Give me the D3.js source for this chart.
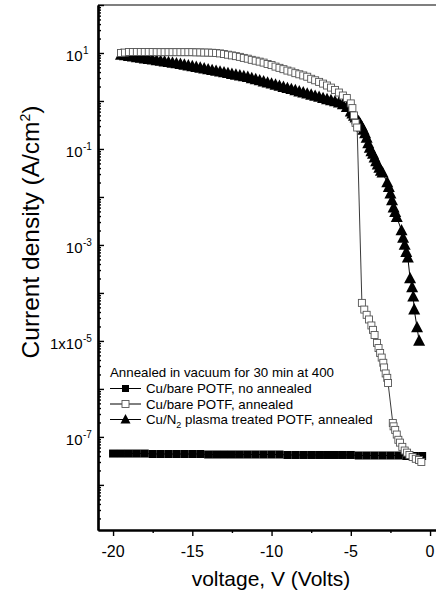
<!DOCTYPE html>
<html>
<head>
<meta charset="utf-8">
<script src="https://cdn.jsdelivr.net/npm/d3@7"></script>
<style>
  html, body { margin: 0; padding: 0; background: #fff; overflow: hidden; }
  svg { display: block; font-family: Arial, "Liberation Sans", sans-serif; }
</style>
</head>
<body>
<svg id="chart" width="436" height="594"></svg>
<script>
// ---------------- DATA ----------------
// Series A: Cu/bare POTF, no annealed (filled squares)
const voltsA = [-20,-19.5,-19,-18.5,-18,-17.5,-17,-16.5,-16,-15.5,-15,-14.5,-14,-13.5,-13,-12.5,-12,-11.5,-11,-10.5,
                -10,-9.5,-9,-8.5,-8,-7.5,-7,-6.5,-6,-5.5,-5,-4.5,-4,-3.5,-3,-2.5,-2,-1.5,-1,-0.5];
const currA = [4.5e-8,4.5e-8,4.5e-8,4.5e-8,4.5e-8,4.4e-8,4.4e-8,4.4e-8,4.4e-8,4.4e-8,4.4e-8,4.4e-8,4.3e-8,4.3e-8,4.3e-8,4.3e-8,4.3e-8,4.3e-8,4.3e-8,4.3e-8,
               4.3e-8,4.3e-8,4.2e-8,4.2e-8,4.2e-8,4.2e-8,4.2e-8,4.2e-8,4.2e-8,4.2e-8,4.2e-8,4.1e-8,4.1e-8,4.1e-8,4.1e-8,4.1e-8,4.1e-8,4.0e-8,4.0e-8,4.0e-8];

// Series B: Cu/bare POTF, annealed (open squares)
const voltsB = [-19.5,-19.25,-19,-18.75,-18.5,-18.25,-18,-17.75,-17.5,-17.25,-17,-16.75,-16.5,-16.25,-16,-15.75,-15.5,-15.25,-15,-14.75,
                -14.5,-14.25,-14,-13.75,-13.5,-13.25,-13,-12.75,-12.5,-12.25,-12,-11.75,-11.5,-11.25,-11,-10.75,-10.5,-10.25,-10,-9.75,
                -9.5,-9.25,-9,-8.75,-8.5,-8.25,-8,-7.75,-7.5,-7.25,-7,-6.75,-6.5,-6.25,-6,-5.75,-5.5,-5.25,-5,-4.9,
                -4.8,-4.7,-4.6,-4.3,-4.15,-4,-3.85,-3.7,-3.6,-3.5,-3.35,-3.25,-3.15,-3.05,-2.95,-2.9,-2.8,-2.7,-2.65,-2.35,
                -2.3,-2.2,-2.1,-2,-1.9,-1.75,-1.6,-1.45,-1.3,-1.1,-0.9,-0.7,-0.55];
const currB = [10.0,10.2,10.5,10.5,10.5,10.5,10.5,10.5,10.5,10.4,10.4,10.4,10.4,10.4,10.4,10.4,10.4,10.4,10.4,10.3,
               10.3,10.2,10.2,10.1,10.0,9.8,9.5,9.2,8.9,8.6,8.3,7.9,7.6,7.2,6.9,6.6,6.3,5.9,5.6,5.2,
               4.9,4.6,4.3,4.1,3.8,3.6,3.4,3.2,2.9,2.7,2.5,2.3,2.1,1.9,1.7,1.5,1.3,1.15,0.89,0.71,
               0.50,0.35,0.28,6.2e-5,4.5e-5,3.5e-5,2.8e-5,2.1e-5,1.7e-5,1.33e-5,9.1e-6,7.1e-6,5.6e-6,4.5e-6,3.5e-6,2.8e-6,2.1e-6,1.7e-6,1.33e-6,1.95e-7,
               1.66e-7,1.4e-7,1.12e-7,8.7e-8,7.6e-8,6.2e-8,5.2e-8,4.7e-8,4.2e-8,3.8e-8,3.5e-8,3.3e-8,3.0e-8];

// Series C: Cu/N2 plasma treated POTF, annealed (filled triangles)
const voltsC = [-19.5,-19.25,-19,-18.75,-18.5,-18.25,-18,-17.75,-17.5,-17.25,-17,-16.75,-16.5,-16.25,-16,-15.75,-15.5,-15.25,-15,-14.75,
                -14.5,-14.25,-14,-13.75,-13.5,-13.25,-13,-12.75,-12.5,-12.25,-12,-11.75,-11.5,-11.25,-11,-10.75,-10.5,-10.25,-10,-9.75,
                -9.5,-9.25,-9,-8.75,-8.5,-8.25,-8,-7.75,-7.5,-7.25,-7,-6.75,-6.5,-6.25,-6,-5.75,-5.5,-5.25,-5,-4.9,
                -4.8,-4.7,-4.6,-4.5,-4.4,-4.3,-4.2,-4.1,-4,-3.9,-3.8,-3.7,-3.6,-3.5,-3.4,-3.3,-3.2,-3.1,-3,-2.7,
                -2.6,-2.5,-2.4,-2.3,-2.2,-2.1,-1.8,-1.7,-1.6,-1.5,-1.4,-1.26,-1.13,-1.06,-1,-0.82,-0.69];
const currC = [9.12,8.85,8.59,8.36,8.11,7.87,7.64,7.43,7.21,7.00,6.79,6.61,6.41,6.22,6.04,5.87,5.65,5.45,5.25,5.06,
               4.88,4.70,4.53,4.37,4.21,4.06,3.91,3.77,3.63,3.50,3.37,3.25,3.13,2.96,2.81,2.67,2.53,2.40,2.28,2.16,
               2.05,1.94,1.84,1.75,1.66,1.57,1.49,1.41,1.34,1.27,1.21,1.14,1.08,1.03,0.975,0.925,0.85,0.74,0.60,0.54,
               0.49,0.45,0.41,0.37,0.33,0.29,0.25,0.21,0.17,0.13,0.105,0.089,0.079,0.066,0.055,0.047,0.040,0.035,0.032,0.020,
               0.016,0.0117,0.0085,0.0060,0.0048,0.0038,0.0020,0.0014,0.0010,7.1e-4,5.4e-4,2.0e-4,1.3e-4,8.3e-5,4.5e-5,1.9e-5,1.0e-5];

const seriesNames = ["Cu/bare POTF, no annealed", "Cu/bare POTF, annealed", "Cu/N|2| plasma treated POTF, annealed"];
const legendTitle = "Annealed in vacuum for 30 min at 400";

const xMajorTicks = [-20, -15, -10, -5, 0];
const xMinorTicks = [-17.5, -12.5, -7.5, -2.5];
const yMajorTicks = [1e-8, 1e-7, 1e-6, 1e-5, 1e-4, 1e-3, 1e-2, 1e-1, 1e0, 1e1, 1e2];
const yLabelValues = [1e1, 1e-1, 1e-3, 1e-5, 1e-7];
const yLabelBases = ["10", "10", "10", "1x10", "10"];
const yLabelExps = ["1", "-1", "-3", "-5", "-7"];
const xTitle = "voltage, V (Volts)";
const yTitleMain = "Current density (A/cm";
const yTitleSup = "2";

// ---------------- LAYOUT ----------------
const svg = d3.select("#chart");
const L = 98, R = 444, T = 5, B = 530;
const x = d3.scaleLinear().domain([-20.95, 0.88]).range([L, R]);
const y = d3.scaleLog().domain([Math.pow(10, -8.94), 100]).range([B, T]);

// minor log ticks
const yMinor = [];
for (let e = -9; e <= 1; e++) for (let m = 2; m <= 9; m++) {
  const v = m * Math.pow(10, e);
  if (v >= y.domain()[0] && v <= y.domain()[1]) yMinor.push(v);
}

// frame top line
svg.append("line").attr("x1", L).attr("x2", 436).attr("y1", T).attr("y2", T)
  .attr("stroke", "#000").attr("stroke-width", 1.2);

// Y axis (ticks inward)
const gy = svg.append("g").attr("transform", `translate(${L},0)`);
gy.call(d3.axisRight(y).tickValues(yMajorTicks).tickSize(6).tickSizeOuter(0).tickFormat(""));
gy.append("g").call(d3.axisRight(y).tickValues(yMinor).tickSize(3).tickSizeOuter(0).tickFormat(""));
gy.selectAll("path.domain").attr("stroke-width", 2.2);
gy.selectAll("line").attr("stroke-width", 1.4);

// X axis (ticks outward)
const gx = svg.append("g").attr("transform", `translate(0,${B})`);
gx.call(d3.axisBottom(x).tickValues(xMajorTicks).tickSize(6).tickSizeOuter(0).tickFormat(""));
gx.append("g").call(d3.axisBottom(x).tickValues(xMinorTicks).tickSize(3).tickSizeOuter(0).tickFormat(""));
gx.selectAll("path.domain").attr("stroke-width", 2.2);
gx.selectAll("line").attr("stroke-width", 1.4);

// X tick labels
svg.append("g").selectAll("text").data(xMajorTicks).join("text")
  .attr("x", d => x(d)).attr("y", 557).attr("text-anchor", "middle")
  .attr("font-size", 16).text(d => d === 0 ? "0" : String(d));

// Y tick labels with superscripts
const yl = svg.append("g");
yLabelValues.forEach((v, i) => {
  yl.append("text").attr("x", 82.5).attr("y", y(v) + 8).attr("text-anchor", "end")
    .attr("font-size", 15).text(yLabelBases[i]);
  yl.append("text").attr("x", 83).attr("y", y(v) + 1).attr("text-anchor", "start")
    .attr("font-size", 10).text(yLabelExps[i]);
});

// Axis titles
svg.append("text").attr("x", 271).attr("y", 586).attr("text-anchor", "middle")
  .attr("font-size", 21).text(xTitle);
const yt = svg.append("text").attr("transform", "translate(39,232) rotate(-90)")
  .attr("text-anchor", "middle").attr("font-size", 24.5);
yt.append("tspan").text(yTitleMain);
yt.append("tspan").attr("dy", -9).attr("font-size", 14).text(yTitleSup);
yt.append("tspan").attr("dy", 9).text(")");

// ---------------- MARKS ----------------
const line = d3.line().x(d => x(d[0])).y(d => y(d[1]));
const zipA = voltsA.map((v, i) => [v, currA[i]]);
const zipB = voltsB.map((v, i) => [v, currB[i]]);
const zipC = voltsC.map((v, i) => [v, currC[i]]);

const triPath = (s) => `M0,${-s*0.55}L${s/2},${s*0.4}L${-s/2},${s*0.4}Z`;

// A: filled squares
svg.append("path").datum(zipA).attr("d", line).attr("fill", "none").attr("stroke", "#000").attr("stroke-width", 1);
svg.append("g").selectAll("rect").data(zipA).join("rect")
  .attr("x", d => x(d[0]) - 4).attr("y", d => y(d[1]) - 4).attr("width", 8).attr("height", 8).attr("fill", "#000");

// C: triangles
svg.append("path").datum(zipC).attr("d", line).attr("fill", "none").attr("stroke", "#000").attr("stroke-width", 1);
svg.append("g").selectAll("path").data(zipC).join("path")
  .attr("transform", d => `translate(${x(d[0])},${y(d[1])})`).attr("d", triPath(12)).attr("fill", "#000");

// B: open squares
svg.append("path").datum(zipB).attr("d", line).attr("fill", "none").attr("stroke", "#222").attr("stroke-width", 0.9);
svg.append("g").selectAll("rect").data(zipB).join("rect")
  .attr("x", d => x(d[0]) - 3.5).attr("y", d => y(d[1]) - 3.5).attr("width", 7).attr("height", 7)
  .attr("fill", "#fff").attr("stroke", "#555").attr("stroke-width", 0.9);

// ---------------- LEGEND ----------------
const lg = svg.append("g").attr("font-size", 13.3);
lg.append("text").attr("x", 110).attr("y", 377).text(legendTitle);
const rowY = [393, 408.5, 424];
seriesNames.forEach((name, i) => {
  const cy = rowY[i] - 4.5;
  lg.append("line").attr("x1", 110).attr("x2", 141).attr("y1", cy).attr("y2", cy)
    .attr("stroke", "#000").attr("stroke-width", 1);
  if (i === 0) lg.append("rect").attr("x", 122).attr("y", cy - 3.5).attr("width", 7).attr("height", 7).attr("fill", "#000");
  if (i === 1) lg.append("rect").attr("x", 122).attr("y", cy - 3.5).attr("width", 7).attr("height", 7)
    .attr("fill", "#fff").attr("stroke", "#555").attr("stroke-width", 0.9);
  if (i === 2) lg.append("path").attr("transform", `translate(125.5,${cy})`).attr("d", triPath(10)).attr("fill", "#000");
  const t = lg.append("text").attr("x", 146).attr("y", rowY[i]);
  const parts = name.split("|");
  if (parts.length === 1) t.text(name);
  else {
    t.append("tspan").text(parts[0]);
    t.append("tspan").attr("dy", 4).attr("font-size", 9).text(parts[1]);
    t.append("tspan").attr("dy", -4).text(parts[2]);
  }
});

// keep the strip right of the data clear
svg.append("rect").attr("x", 431).attr("y", 8).attr("width", 5).attr("height", 519).attr("fill", "#fff");
</script>
</body>
</html>
